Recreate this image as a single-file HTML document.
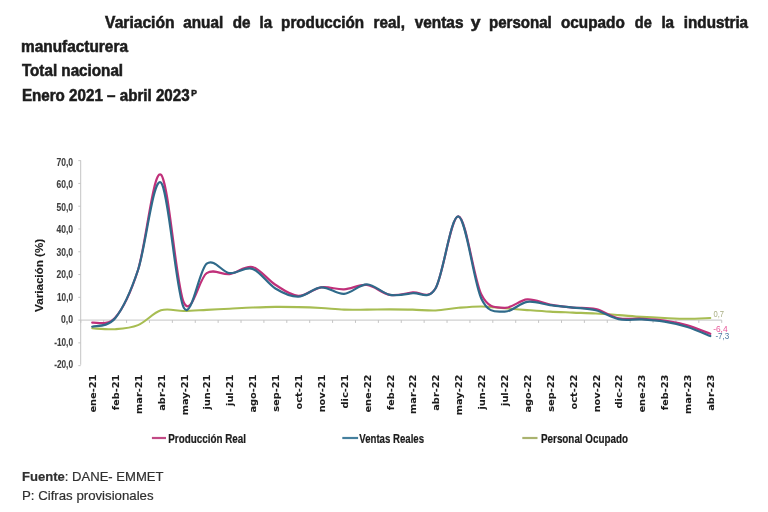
<!DOCTYPE html>
<html lang="es"><head><meta charset="utf-8"><title>Variación anual EMMET</title>
<style>html,body{margin:0;padding:0;background:#fff;}svg{display:block;filter:blur(0.3px);}</style></head>
<body><svg width="768" height="512" viewBox="0 0 768 512">
<rect width="768" height="512" fill="#fff"/>
<g font-family="Liberation Sans, Arial, sans-serif" font-weight="bold" font-size="15.8" fill="#1c1c1c" stroke="#1c1c1c" stroke-width="0.55">
<text x="105.1" y="27.7" textLength="69.4" lengthAdjust="spacingAndGlyphs">Variación</text>
<text x="183.3" y="27.7" textLength="39.9" lengthAdjust="spacingAndGlyphs">anual</text>
<text x="232.7" y="27.7" textLength="17.8" lengthAdjust="spacingAndGlyphs">de</text>
<text x="259.6" y="27.7" textLength="12.6" lengthAdjust="spacingAndGlyphs">la</text>
<text x="281.1" y="27.7" textLength="82.9" lengthAdjust="spacingAndGlyphs">producción</text>
<text x="373.6" y="27.7" textLength="31.3" lengthAdjust="spacingAndGlyphs">real,</text>
<text x="414.7" y="27.7" textLength="48.8" lengthAdjust="spacingAndGlyphs">ventas</text>
<text x="470.8" y="27.7" textLength="9.8" lengthAdjust="spacingAndGlyphs">y</text>
<text x="489.0" y="27.7" textLength="62.8" lengthAdjust="spacingAndGlyphs">personal</text>
<text x="560.9" y="27.7" textLength="63.9" lengthAdjust="spacingAndGlyphs">ocupado</text>
<text x="634.8" y="27.7" textLength="17.0" lengthAdjust="spacingAndGlyphs">de</text>
<text x="661.4" y="27.7" textLength="12.7" lengthAdjust="spacingAndGlyphs">la</text>
<text x="683.8" y="27.7" textLength="64.3" lengthAdjust="spacingAndGlyphs">industria</text>
<text x="21.0" y="51.7" textLength="107" lengthAdjust="spacingAndGlyphs">manufacturera</text>
<text x="21.9" y="76.4" textLength="101.2" lengthAdjust="spacingAndGlyphs">Total nacional</text>
<text x="21.9" y="100.6" textLength="167.8" lengthAdjust="spacingAndGlyphs">Enero 2021 – abril 2023</text>
<text x="191.2" y="96.3" font-size="8.5" textLength="5.6" lengthAdjust="spacingAndGlyphs">P</text>
</g>
<g stroke="#c4c4c4" stroke-width="1" fill="none">
<line x1="80.7" y1="160.3" x2="80.7" y2="364.8"/>
<line x1="78.3" y1="365.66" x2="80.7" y2="365.66"/>
<line x1="78.3" y1="342.88" x2="80.7" y2="342.88"/>
<line x1="78.3" y1="320.10" x2="80.7" y2="320.10"/>
<line x1="78.3" y1="297.32" x2="80.7" y2="297.32"/>
<line x1="78.3" y1="274.54" x2="80.7" y2="274.54"/>
<line x1="78.3" y1="251.76" x2="80.7" y2="251.76"/>
<line x1="78.3" y1="228.98" x2="80.7" y2="228.98"/>
<line x1="78.3" y1="206.20" x2="80.7" y2="206.20"/>
<line x1="78.3" y1="183.42" x2="80.7" y2="183.42"/>
<line x1="78.3" y1="160.64" x2="80.7" y2="160.64"/>
<line x1="80.7" y1="320.10" x2="721.7" y2="320.10"/>
<line x1="80.80" y1="320.10" x2="80.80" y2="322.90"/>
<line x1="103.69" y1="320.10" x2="103.69" y2="322.90"/>
<line x1="126.58" y1="320.10" x2="126.58" y2="322.90"/>
<line x1="149.47" y1="320.10" x2="149.47" y2="322.90"/>
<line x1="172.36" y1="320.10" x2="172.36" y2="322.90"/>
<line x1="195.25" y1="320.10" x2="195.25" y2="322.90"/>
<line x1="218.14" y1="320.10" x2="218.14" y2="322.90"/>
<line x1="241.03" y1="320.10" x2="241.03" y2="322.90"/>
<line x1="263.92" y1="320.10" x2="263.92" y2="322.90"/>
<line x1="286.81" y1="320.10" x2="286.81" y2="322.90"/>
<line x1="309.70" y1="320.10" x2="309.70" y2="322.90"/>
<line x1="332.59" y1="320.10" x2="332.59" y2="322.90"/>
<line x1="355.48" y1="320.10" x2="355.48" y2="322.90"/>
<line x1="378.37" y1="320.10" x2="378.37" y2="322.90"/>
<line x1="401.26" y1="320.10" x2="401.26" y2="322.90"/>
<line x1="424.15" y1="320.10" x2="424.15" y2="322.90"/>
<line x1="447.04" y1="320.10" x2="447.04" y2="322.90"/>
<line x1="469.93" y1="320.10" x2="469.93" y2="322.90"/>
<line x1="492.82" y1="320.10" x2="492.82" y2="322.90"/>
<line x1="515.71" y1="320.10" x2="515.71" y2="322.90"/>
<line x1="538.60" y1="320.10" x2="538.60" y2="322.90"/>
<line x1="561.49" y1="320.10" x2="561.49" y2="322.90"/>
<line x1="584.38" y1="320.10" x2="584.38" y2="322.90"/>
<line x1="607.27" y1="320.10" x2="607.27" y2="322.90"/>
<line x1="630.16" y1="320.10" x2="630.16" y2="322.90"/>
<line x1="653.05" y1="320.10" x2="653.05" y2="322.90"/>
<line x1="675.94" y1="320.10" x2="675.94" y2="322.90"/>
<line x1="698.83" y1="320.10" x2="698.83" y2="322.90"/>
<line x1="721.72" y1="320.10" x2="721.72" y2="322.90"/>
</g>
<g font-family="Liberation Sans, Arial, sans-serif" font-weight="bold" font-size="10" fill="#404040" stroke="#404040" stroke-width="0.1" text-anchor="end">
<text x="73.0" y="368.10" textLength="18.8" lengthAdjust="spacingAndGlyphs">-20,0</text>
<text x="73.0" y="345.60" textLength="18.8" lengthAdjust="spacingAndGlyphs">-10,0</text>
<text x="73.0" y="323.10" textLength="12.0" lengthAdjust="spacingAndGlyphs">0,0</text>
<text x="73.0" y="300.60" textLength="16.0" lengthAdjust="spacingAndGlyphs">10,0</text>
<text x="73.0" y="278.10" textLength="16.6" lengthAdjust="spacingAndGlyphs">20,0</text>
<text x="73.0" y="255.60" textLength="16.6" lengthAdjust="spacingAndGlyphs">30,0</text>
<text x="73.0" y="233.10" textLength="16.6" lengthAdjust="spacingAndGlyphs">40,0</text>
<text x="73.0" y="210.60" textLength="16.6" lengthAdjust="spacingAndGlyphs">50,0</text>
<text x="73.0" y="188.10" textLength="16.6" lengthAdjust="spacingAndGlyphs">60,0</text>
<text x="73.0" y="165.60" textLength="16.6" lengthAdjust="spacingAndGlyphs">70,0</text>
</g>
<text transform="translate(43.4 275.4) rotate(-90)" font-family="Liberation Sans, Arial, sans-serif" font-weight="bold" font-size="10.4" fill="#1c1c1c" stroke="#1c1c1c" stroke-width="0.1" text-anchor="middle" textLength="73" lengthAdjust="spacingAndGlyphs">Variación (%)</text>
<g font-family="DejaVu Sans, sans-serif" font-weight="bold" font-size="9.8" fill="#1c1c1c" stroke="#1c1c1c" stroke-width="0.1" text-anchor="end">
<text transform="translate(95.95 374.6) rotate(-90) scale(1 0.88)">ene-21</text>
<text transform="translate(118.83 374.6) rotate(-90) scale(1 0.88)">feb-21</text>
<text transform="translate(141.72 374.6) rotate(-90) scale(1 0.88)">mar-21</text>
<text transform="translate(164.62 374.6) rotate(-90) scale(1 0.88)">abr-21</text>
<text transform="translate(187.50 374.6) rotate(-90) scale(1 0.88)">may-21</text>
<text transform="translate(210.39 374.6) rotate(-90) scale(1 0.88)">jun-21</text>
<text transform="translate(233.28 374.6) rotate(-90) scale(1 0.88)">jul-21</text>
<text transform="translate(256.18 374.6) rotate(-90) scale(1 0.88)">ago-21</text>
<text transform="translate(279.06 374.6) rotate(-90) scale(1 0.88)">sep-21</text>
<text transform="translate(301.95 374.6) rotate(-90) scale(1 0.88)">oct-21</text>
<text transform="translate(324.84 374.6) rotate(-90) scale(1 0.88)">nov-21</text>
<text transform="translate(347.74 374.6) rotate(-90) scale(1 0.88)">dic-21</text>
<text transform="translate(370.62 374.6) rotate(-90) scale(1 0.88)">ene-22</text>
<text transform="translate(393.51 374.6) rotate(-90) scale(1 0.88)">feb-22</text>
<text transform="translate(416.41 374.6) rotate(-90) scale(1 0.88)">mar-22</text>
<text transform="translate(439.30 374.6) rotate(-90) scale(1 0.88)">abr-22</text>
<text transform="translate(462.19 374.6) rotate(-90) scale(1 0.88)">may-22</text>
<text transform="translate(485.07 374.6) rotate(-90) scale(1 0.88)">jun-22</text>
<text transform="translate(507.97 374.6) rotate(-90) scale(1 0.88)">jul-22</text>
<text transform="translate(530.86 374.6) rotate(-90) scale(1 0.88)">ago-22</text>
<text transform="translate(553.75 374.6) rotate(-90) scale(1 0.88)">sep-22</text>
<text transform="translate(576.63 374.6) rotate(-90) scale(1 0.88)">oct-22</text>
<text transform="translate(599.52 374.6) rotate(-90) scale(1 0.88)">nov-22</text>
<text transform="translate(622.41 374.6) rotate(-90) scale(1 0.88)">dic-22</text>
<text transform="translate(645.31 374.6) rotate(-90) scale(1 0.88)">ene-23</text>
<text transform="translate(668.20 374.6) rotate(-90) scale(1 0.88)">feb-23</text>
<text transform="translate(691.09 374.6) rotate(-90) scale(1 0.88)">mar-23</text>
<text transform="translate(713.98 374.6) rotate(-90) scale(1 0.88)">abr-23</text>
</g>
<g fill="none" stroke-width="2.2" stroke-linejoin="round" stroke-linecap="round">
<path d="M92.25 328.30 C96.06 328.45 107.50 329.74 115.13 329.21 C122.76 328.68 130.40 328.26 138.03 325.11 C145.66 321.96 153.29 312.66 160.92 310.30 C168.55 307.95 176.18 311.06 183.81 310.99 C191.44 310.91 199.06 310.23 206.69 309.85 C214.32 309.47 221.95 309.09 229.58 308.71 C237.21 308.33 244.85 307.87 252.48 307.57 C260.11 307.27 267.74 306.96 275.37 306.89 C283.00 306.81 290.62 306.93 298.25 307.12 C305.88 307.31 313.51 307.61 321.14 308.03 C328.77 308.44 336.41 309.36 344.04 309.62 C351.67 309.89 359.30 309.66 366.93 309.62 C374.56 309.58 382.19 309.39 389.81 309.39 C397.44 309.39 405.08 309.43 412.71 309.62 C420.34 309.81 427.97 310.84 435.60 310.53 C443.23 310.23 450.86 308.48 458.49 307.80 C466.12 307.12 473.75 306.36 481.38 306.43 C489.00 306.51 496.64 307.65 504.27 308.25 C511.90 308.86 519.52 309.51 527.15 310.08 C534.78 310.65 542.41 311.25 550.04 311.67 C557.67 312.09 565.30 312.28 572.93 312.58 C580.56 312.89 588.19 313.08 595.82 313.49 C603.45 313.91 611.08 314.52 618.71 315.09 C626.34 315.66 633.98 316.42 641.61 316.91 C649.24 317.40 656.87 317.75 664.50 318.05 C672.12 318.35 679.75 318.73 687.38 318.73 C695.01 318.73 706.46 318.16 710.27 318.05" stroke="#a7bd52" stroke-width="2.1"/>
<path d="M92.25 322.61 C96.06 321.81 107.50 326.59 115.13 317.82 C122.76 309.05 130.40 293.87 138.03 269.98 C145.66 246.10 153.29 169.11 160.92 174.54 C168.55 179.97 176.18 286.12 183.81 302.56 C191.44 319.00 199.06 277.92 206.69 273.17 C214.32 268.43 221.95 275.11 229.58 274.08 C237.21 273.06 244.85 265.24 252.48 267.02 C260.11 268.81 267.74 279.97 275.37 284.79 C283.00 289.61 290.62 295.54 298.25 295.95 C305.88 296.37 313.51 288.40 321.14 287.30 C328.77 286.20 336.41 289.73 344.04 289.35 C351.67 288.97 359.30 284.11 366.93 285.02 C374.56 285.93 382.19 293.60 389.81 294.81 C397.44 296.03 405.08 293.41 412.71 292.31 C420.34 291.21 427.97 300.85 435.60 288.21 C443.23 275.57 450.86 215.39 458.49 216.45 C466.12 217.51 473.75 279.36 481.38 294.59 C489.00 309.81 496.64 307.00 504.27 307.80 C511.90 308.60 519.52 299.90 527.15 299.37 C534.78 298.84 542.41 303.24 550.04 304.61 C557.67 305.98 565.30 306.81 572.93 307.57 C580.56 308.33 588.19 307.38 595.82 309.17 C603.45 310.95 611.08 316.68 618.71 318.28 C626.34 319.87 633.98 318.35 641.61 318.73 C649.24 319.11 656.87 319.45 664.50 320.56 C672.12 321.66 679.75 323.14 687.38 325.34 C695.01 327.54 706.46 332.36 710.27 333.77" stroke="#c0307a"/>
<path d="M92.25 326.71 C96.06 325.30 107.50 327.73 115.13 318.28 C122.76 308.82 130.40 292.61 138.03 269.98 C145.66 247.36 153.29 176.21 160.92 182.51 C168.55 188.81 176.18 294.28 183.81 307.80 C191.44 321.31 199.06 269.38 206.69 263.61 C214.32 257.83 221.95 272.30 229.58 273.17 C237.21 274.05 244.85 266.30 252.48 268.85 C260.11 271.39 267.74 283.80 275.37 288.44 C283.00 293.07 290.62 296.83 298.25 296.64 C305.88 296.45 313.51 287.75 321.14 287.30 C328.77 286.84 336.41 294.40 344.04 293.90 C351.67 293.41 359.30 284.18 366.93 284.34 C374.56 284.49 382.19 293.33 389.81 294.81 C397.44 296.29 405.08 294.32 412.71 293.22 C420.34 292.12 427.97 301.00 435.60 288.21 C443.23 275.41 450.86 214.70 458.49 216.45 C466.12 218.20 473.75 282.82 481.38 298.69 C489.00 314.56 496.64 311.14 504.27 311.67 C511.90 312.20 519.52 302.98 527.15 301.88 C534.78 300.77 542.41 304.12 550.04 305.07 C557.67 306.01 565.30 306.70 572.93 307.57 C580.56 308.44 588.19 308.37 595.82 310.30 C603.45 312.24 611.08 317.67 618.71 319.19 C626.34 320.71 633.98 319.00 641.61 319.42 C649.24 319.83 656.87 320.44 664.50 321.69 C672.12 322.95 679.75 324.54 687.38 326.93 C695.01 329.33 706.46 334.53 710.27 336.05" stroke="#2f6a8a"/>
</g>
<g font-family="Liberation Sans, Arial, sans-serif" font-size="8.6">
<text x="713.4" y="317.2" fill="#a9ae84" textLength="10.6" lengthAdjust="spacingAndGlyphs">0,7</text>
<text x="713.2" y="332" fill="#e8589a" textLength="14.4" lengthAdjust="spacingAndGlyphs">-6,4</text>
<text x="715.4" y="339.4" fill="#5079a2" textLength="14" lengthAdjust="spacingAndGlyphs">-7,3</text>
</g>
<g stroke-width="2.2">
<line x1="151.9" y1="438" x2="166" y2="438" stroke="#c24a85"/>
<line x1="342.3" y1="438" x2="358.1" y2="438" stroke="#45809e"/>
<line x1="522.3" y1="438" x2="537.5" y2="438" stroke="#aab36f"/>
</g>
<g font-family="Liberation Sans, Arial, sans-serif" font-weight="bold" font-size="12" fill="#1c1c1c" stroke="#1c1c1c" stroke-width="0.2">
<text x="168.3" y="442.6" textLength="77.7" lengthAdjust="spacingAndGlyphs">Producción Real</text>
<text x="359.3" y="442.6" textLength="64.7" lengthAdjust="spacingAndGlyphs">Ventas Reales</text>
<text x="541" y="442.6" textLength="87" lengthAdjust="spacingAndGlyphs">Personal Ocupado</text>
</g>
<g font-family="Liberation Sans, Arial, sans-serif" font-size="13.5" fill="#303030" stroke="#303030" stroke-width="0.2">
<text x="22.0" y="480.6" textLength="141.5" lengthAdjust="spacingAndGlyphs"><tspan font-weight="bold">Fuente</tspan>: DANE- EMMET</text>
<text x="22.0" y="499.9" textLength="131.6" lengthAdjust="spacingAndGlyphs">P: Cifras provisionales</text>
</g>
</svg></body></html>
